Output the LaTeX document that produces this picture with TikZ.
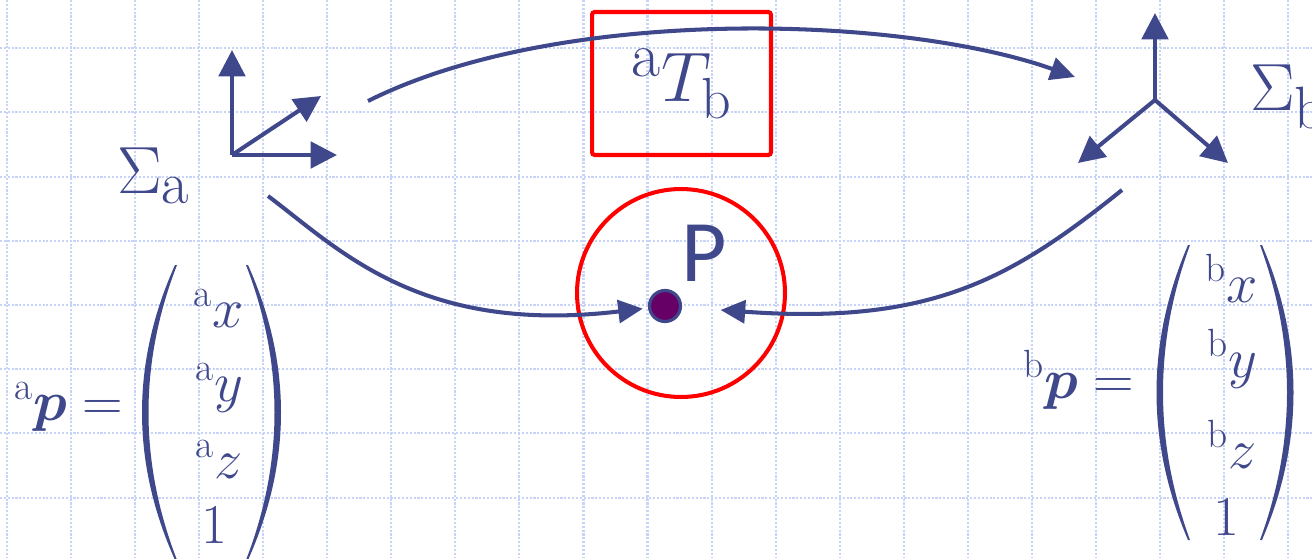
\RequirePackage{fix-cm}
\documentclass[tikz,border=0pt]{standalone}
\usepackage{amsmath}
\usepackage{fontspec}
\newfontfamily\pointfont{Carlito}
\usetikzlibrary{arrows.meta,positioning}
\definecolor{ink}{RGB}{64,72,140}
\definecolor{gridblue}{RGB}{200,211,250}
\definecolor{dotpurple}{RGB}{102,0,102}
\tikzset{
  bggrid/.style={gridblue, line width=1.2pt, densely dotted},
  axis/.style={ink, line width=2.3pt, -{Triangle[length=15pt,width=15pt]}},
  link/.style={ink, line width=2.3pt, -{Triangle[length=14pt,width=13pt]}},
  redmark/.style={draw=red, line width=2.3pt},
  symb/.style={text=ink, inner sep=0pt},
  entry/.style={text=ink, inner sep=0pt, anchor=base, font=\fontsize{32}{34}\selectfont},
  paren/.style={fill=ink}
}

\begin{document}
\begin{tikzpicture}[x=0.02cm,y=-0.02cm]
  \useasboundingbox (0,0) rectangle (1312,558);
  \fill[white] (0,0) rectangle (1312,558);
  \clip (0,0) rectangle (1312,558);

  % background grid
  \foreach \gx in {0,...,20} \draw[bggrid] ({7+64.05*\gx},0) -- ({7+64.05*\gx},558);
  \foreach \gy in {1,...,8} \draw[bggrid] (0,{-16+64.2*\gy}) -- (1312,{-16+64.2*\gy});

  % frame a
  \coordinate (oa) at (232,155);
  \coordinate (oa-up) at (232,50);
  \coordinate (oa-right) at (337,155);
  \coordinate (oa-diag) at (321,96);
  \draw[axis] (oa) -- (oa-up);
  \draw[axis] (oa) -- (oa-right);
  \draw[axis] (oa) -- (oa-diag);
  \node[symb, anchor=base west, font=\fontsize{38}{42}\selectfont] (siga) at (117,193) {$\Sigma_{\mbox{\fontsize{34}{34}\selectfont a}}$};

  % frame b
  \coordinate (ob) at (1155,100);
  \coordinate (ob-up) at (1155,13);
  \coordinate (ob-left) at (1078,163);
  \coordinate (ob-right) at (1228,163);
  \draw[axis] (ob) -- (ob-up);
  \draw[axis] (ob) -- (ob-left);
  \draw[axis] (ob) -- (ob-right);
  \node[symb, anchor=base west, font=\fontsize{38}{42}\selectfont] (sigb) at (1250,110) {$\Sigma_{\mbox{\fontsize{34}{34}\selectfont b}}$};

  % transform and point
  \node[redmark, rounded corners=1.5pt, minimum width=3.58cm, minimum height=2.86cm, text=ink, inner sep=0pt, font=\fontsize{40}{44}\selectfont] (tab) at (681.5,83.5) {${}^{\mbox{\fontsize{36}{36}\selectfont a}}T_{\mbox{\fontsize{33}{33}\selectfont b}}$};
  \node[redmark, circle, minimum size=4.16cm, inner sep=0pt] (zone) at (681,293) {};
  \node[circle, fill=dotpurple, draw=ink, line width=1.8pt, minimum size=0.62cm, inner sep=0pt] (ptp) at (665,306) {};
  \node[symb, font=\pointfont\fontsize{50}{52}\selectfont] (plabel) at (704,253) {P};

  % connectors
  \coordinate (ta-out) at (368,101);
  \coordinate (tb-in) at (1075,77);
  \coordinate (pa-out) at (268,196);
  \coordinate (pb-out) at (1122,190);
  \draw[link] (ta-out) .. controls (560,5) and (900,15) .. (tb-in);
  \draw[link, shorten >=3pt] (pa-out) .. controls (340,250) and (420,335) .. (ptp);
  \draw[link, shorten >=22pt] (pb-out) .. controls (1010,280) and (930,325) .. (ptp);

  % vector in frame a
  \node[symb, anchor=base west, font=\fontsize{32}{36}\selectfont] (pvec-a) at (14,420) {${}^{\mathrm a}\boldsymbol{p} =$};
  \fill[paren] (175,265) .. controls (131,363) and (131,462) .. (175,560) -- (177,560) .. controls (139,462) and (139,363) .. (177,265) -- cycle;
  \fill[paren] (248,265) .. controls (292,363) and (292,462) .. (248,560) -- (246,560) .. controls (284,462) and (284,363) .. (246,265) -- cycle;
  \node[entry] (ax) at (219,327) {${}^{\mathrm a}x$};
  \node[entry] (ay) at (219,401) {${}^{\mathrm a}y$};
  \node[entry] (az) at (219,478) {${}^{\mathrm a}z$};
  \node[entry] (aone) at (214,543) {$1$};

  % vector in frame b
  \node[symb, anchor=base west, font=\fontsize{32}{36}\selectfont] (pvec-b) at (1023,398) {${}^{\mathrm b}\boldsymbol{p} =$};
  \fill[paren] (1188,245) .. controls (1146,343) and (1146,442) .. (1188,540) -- (1190,540) .. controls (1154,442) and (1154,343) .. (1190,245) -- cycle;
  \fill[paren] (1262,245) .. controls (1304,343) and (1304,442) .. (1262,540) -- (1260,540) .. controls (1296,442) and (1296,343) .. (1260,245) -- cycle;
  \node[entry] (bx) at (1232,302) {${}^{\mathrm b}x$};
  \node[entry] (by) at (1232,377) {${}^{\mathrm b}y$};
  \node[entry] (bz) at (1232,468) {${}^{\mathrm b}z$};
  \node[entry] (bone) at (1226,535) {$1$};
\end{tikzpicture}
\end{document}
